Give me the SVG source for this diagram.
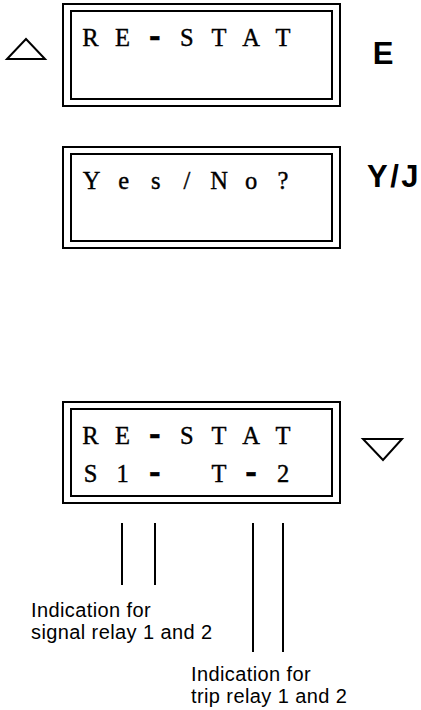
<svg xmlns="http://www.w3.org/2000/svg" width="421" height="710" viewBox="0 0 421 710">
<style>
.frame{fill:none;stroke:#000;stroke-width:2}
.lcd{font-family:"Liberation Serif","Times New Roman",serif;font-size:24.5px;fill:#000;stroke:#000;stroke-width:0.4;text-anchor:middle}
.dash{font-family:"Liberation Mono","Courier New",monospace;font-weight:bold;font-size:31px;stroke-width:0.5}
.key{font-family:"Liberation Sans",Arial,sans-serif;font-size:31px;font-weight:bold;fill:#000}
.note{font-family:"Liberation Sans",Arial,sans-serif;font-size:20px;letter-spacing:0.4px;fill:#000}
.tri{fill:none;stroke:#000;stroke-width:2;stroke-linejoin:miter}
.lead{stroke:#000;stroke-width:2}
</style>
<rect width="421" height="710" fill="#fff"/>
<g id="display1">
<rect class="frame" x="63" y="4" width="277" height="102"/>
<rect class="frame" x="71" y="11" width="261" height="88"/>
<text class="lcd" y="45.5"><tspan x="90.5 122.6">RE</tspan><tspan class="dash" x="154.7">-</tspan><tspan x="186.8 218.9 251 283.1">STAT</tspan></text>
</g>
<g id="key-up"><polygon class="tri" points="7,59 45,59 26,39"/></g>
<g id="key-E"><text class="key" x="372.7" y="63.5">E</text></g>
<g id="display2">
<rect class="frame" x="63" y="147" width="277" height="101"/>
<rect class="frame" x="71" y="154" width="261" height="87"/>
<text class="lcd" y="188.5" x="91.5 123.6 155.7 187 219 251 283">Yes/No?</text>
</g>
<g id="key-YJ"><text class="key" x="367" y="187" letter-spacing="2.5">Y/J</text></g>
<g id="display3">
<rect class="frame" x="63" y="402" width="277" height="101"/>
<rect class="frame" x="71" y="409" width="261" height="87"/>
<text class="lcd" y="443.5"><tspan x="90.5 122.6">RE</tspan><tspan class="dash" x="154.7">-</tspan><tspan x="186.8 218.9 251 283.1">STAT</tspan></text>
<text class="lcd" y="481.5" xml:space="preserve"><tspan x="90.5 122.6">S1</tspan><tspan class="dash" x="154.7">-</tspan><tspan x="186.8 218.9"> T</tspan><tspan class="dash" x="251">-</tspan><tspan x="283.1">2</tspan></text>
</g>
<g id="key-down"><polygon class="tri" points="363,439 402,439 383,460"/></g>
<g id="connectors">
<line class="lead" x1="122" y1="523" x2="122" y2="585"/>
<line class="lead" x1="155" y1="523" x2="155" y2="585"/>
<line class="lead" x1="253" y1="523" x2="253" y2="652"/>
<line class="lead" x1="283" y1="523" x2="283" y2="652"/>
</g>
<g id="label-signal">
<text class="note" x="31" y="617">Indication for</text>
<text class="note" x="31" y="639">signal relay 1 and 2</text>
</g>
<g id="label-trip">
<text class="note" x="191" y="681">Indication for</text>
<text class="note" x="191" y="703">trip relay 1 and 2</text>
</g>
</svg>
